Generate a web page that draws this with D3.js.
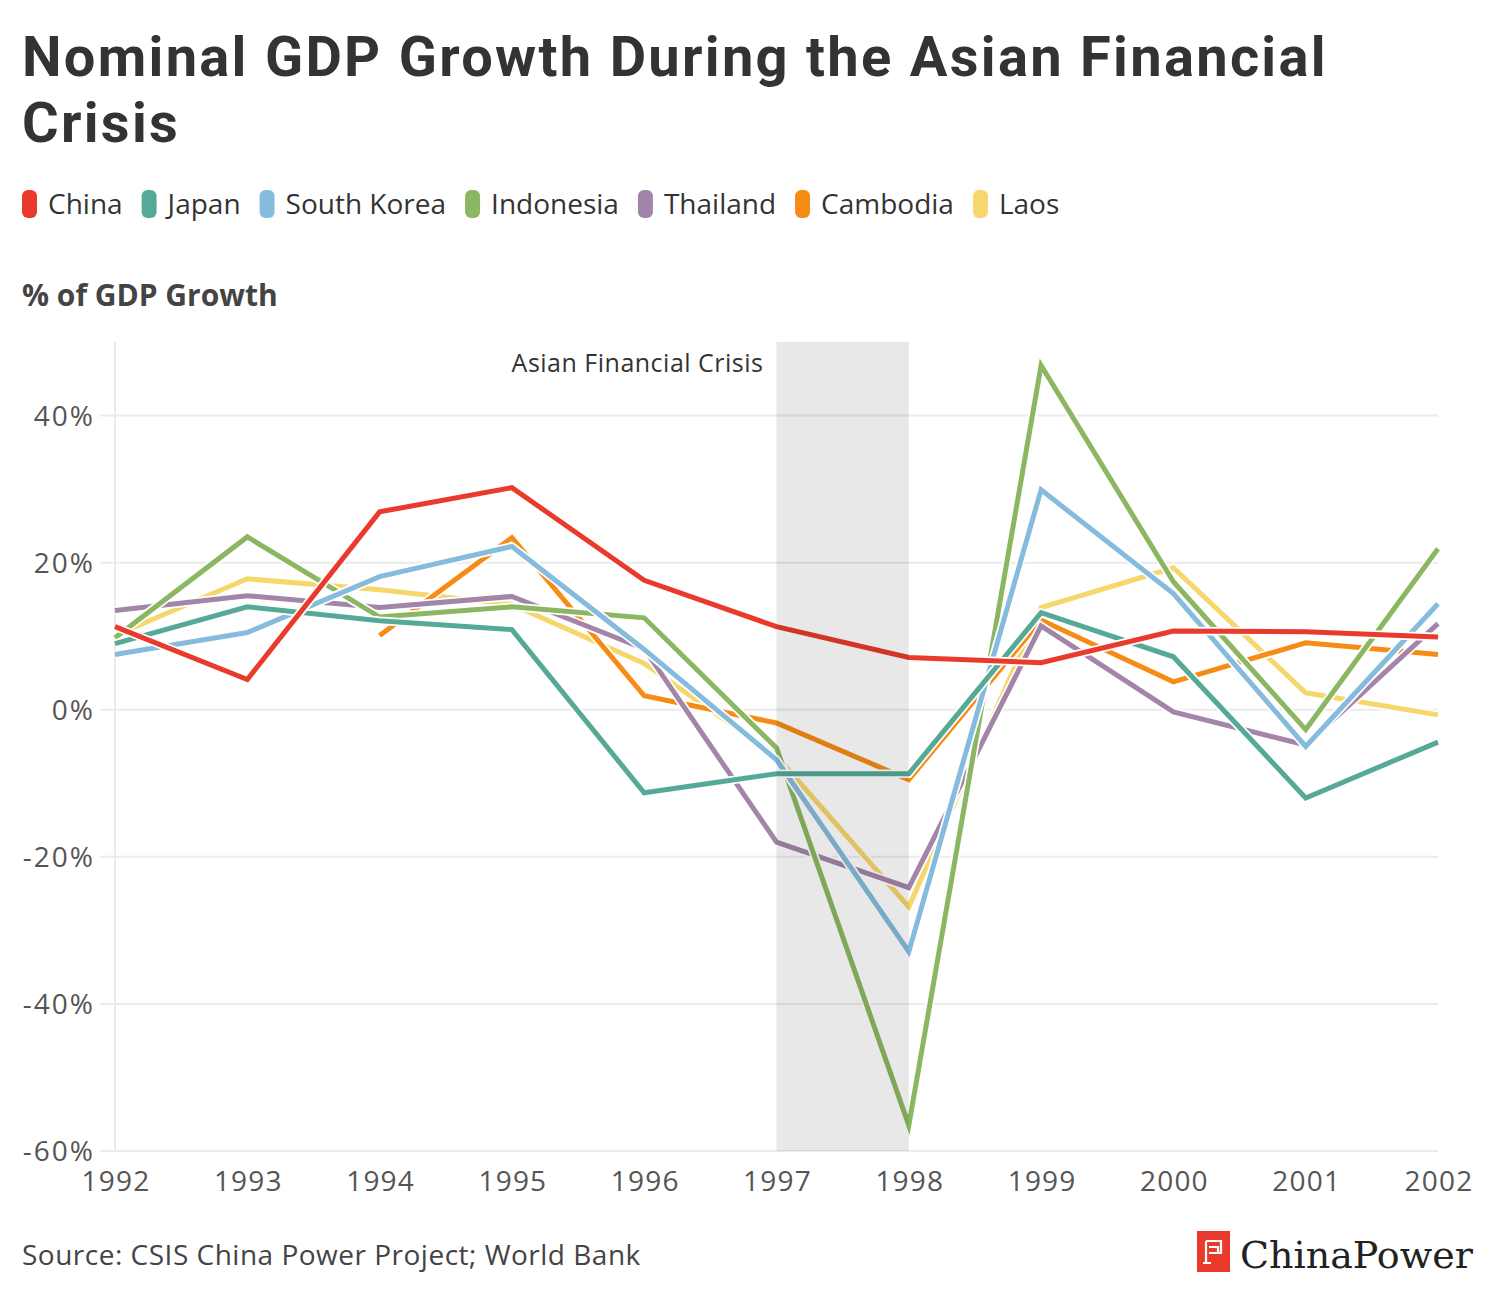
<!DOCTYPE html>
<html>
<head>
<meta charset="utf-8">
<script src="https://cdn.jsdelivr.net/npm/d3@7"></script>
<style>
  body { margin: 0; background: #fff; }
  svg { font-family: "Open Sans", Lato, sans-serif; }
</style>
</head>
<body>
<svg id="chart" width="1500" height="1300"></svg>
<script>
// years on the x axis
var years = [1992, 1993, 1994, 1995, 1996, 1997, 1998, 1999, 2000, 2001, 2002];

// nominal GDP growth, % (null = no data)
var china     = [11.3, 4.1, 26.9, 30.2, 17.6, 11.3, 7.1, 6.4, 10.7, 10.6, 9.9];
var japan     = [9.0, 14.0, 12.1, 10.9, -11.3, -8.7, -8.7, 13.2, 7.2, -12.0, -4.4];
var korea     = [7.5, 10.5, 18.1, 22.2, 8.2, -6.8, -32.9, 29.9, 15.8, -5.0, 14.4];
var indonesia = [9.8, 23.5, 12.6, 14.0, 12.5, -5.2, -56.5, 46.8, 17.4, -2.7, 21.9];
var thailand  = [13.5, 15.5, 13.9, 15.4, 8.3, -18.0, -24.2, 11.4, -0.3, -4.8, 11.7];
var cambodia  = [null, null, 10.1, 23.4, 1.9, -1.8, -9.5, 12.2, 3.8, 9.1, 7.5];
var laos      = [10.1, 17.8, 16.3, 14.3, 6.3, -6.3, -26.8, 13.9, 19.3, 2.3, -0.7];

var names  = ["China", "Japan", "South Korea", "Indonesia", "Thailand", "Cambodia", "Laos"];
var colors = ["#ea3a2c", "#56a996", "#85bbdc", "#8cb762", "#a385a9", "#f68c15", "#f6d76c"];
var values = [china, japan, korea, indonesia, thailand, cambodia, laos];

var yTicks = [-60, -40, -20, 0, 20, 40];
var crisis = [1997, 1998];

var svg = d3.select("svg#chart");

var margin = {left: 115, right: 62, top: 342, bottom: 149};
var W = 1500, H = 1300;

var x = d3.scaleLinear().domain([1992, 2002]).range([margin.left, W - margin.right]);
var y = d3.scaleLinear().domain([-60, 50]).range([H - margin.bottom, margin.top]);

// title
svg.append("text").attr("x", 22).attr("y", 76)
  .attr("font-family", "Roboto, sans-serif").attr("font-size", 56).attr("font-weight", 700)
  .attr("letter-spacing", 2.3).attr("fill", "#333")
  .text("Nominal GDP Growth During the Asian Financial");
svg.append("text").attr("x", 22).attr("y", 142)
  .attr("font-family", "Roboto, sans-serif").attr("font-size", 56).attr("font-weight", 700)
  .attr("letter-spacing", 2.3).attr("fill", "#333")
  .text("Crisis");

// legend
var lx = 22;
names.forEach(function(n, i) {
  var g = svg.append("g").attr("transform", "translate(" + lx + ",190)");
  g.append("rect").attr("width", 15).attr("height", 28).attr("rx", 6)
    .attr("fill", colors[i]);
  var t = g.append("text").attr("x", 26).attr("y", 24)
    .attr("font-size", 28).attr("fill", "#333").text(n);
  lx += 26 + t.node().getComputedTextLength() + 19;
});

svg.append("text").attr("x", 22).attr("y", 306)
  .attr("font-size", 30).attr("font-weight", 700).attr("fill", "#444")
  .text("% of GDP Growth");

// gridlines
svg.append("g").selectAll("line").data(yTicks).enter().append("line")
  .attr("x1", margin.left - 15).attr("x2", W - margin.right)
  .attr("y1", function(d) { return y(d); }).attr("y2", function(d) { return y(d); })
  .attr("stroke", "#ebebeb").attr("stroke-width", 2);

svg.append("line")
  .attr("x1", margin.left).attr("x2", margin.left)
  .attr("y1", margin.top).attr("y2", H - margin.bottom)
  .attr("stroke", "#ebebeb").attr("stroke-width", 2);

// y tick labels
svg.append("g").selectAll("text").data(yTicks).enter().append("text")
  .attr("x", 95).attr("y", function(d) { return y(d) + 10; })
  .attr("text-anchor", "end").attr("font-size", 28).attr("letter-spacing", 2)
  .attr("fill", "#555")
  .text(function(d) { return d + "%"; });

// x tick labels
svg.append("g").selectAll("text").data(years).enter().append("text")
  .attr("x", function(d) { return x(d) + 1; }).attr("y", 1191)
  .attr("text-anchor", "middle").attr("font-size", 28).attr("letter-spacing", 1.2)
  .attr("fill", "#555")
  .text(function(d) { return d; });

// lines
var line = d3.line()
  .defined(function(d) { return d != null; })
  .x(function(d, i) { return x(years[i]); })
  .y(function(d) { return y(d); });

var order = d3.range(names.length).reverse();
var lines = svg.append("g");
order.forEach(function(i) {
  lines.append("path").attr("d", line(values[i]))
    .attr("fill", "none").attr("stroke", "#fff").attr("stroke-width", 8.5);
  lines.append("path").attr("d", line(values[i]))
    .attr("fill", "none").attr("stroke", colors[i]).attr("stroke-width", 5);
});

// crisis band (drawn on top, translucent)
svg.append("rect")
  .attr("x", x(crisis[0])).attr("width", x(crisis[1]) - x(crisis[0]))
  .attr("y", margin.top).attr("height", y(-60) - margin.top)
  .attr("fill", "#000").attr("opacity", 0.09);

svg.append("text").attr("x", x(crisis[0]) - 13).attr("y", 372)
  .attr("text-anchor", "end").attr("font-size", 25).attr("letter-spacing", 0.5)
  .attr("fill", "#333")
  .text("Asian Financial Crisis");

// source
svg.append("text").attr("x", 22).attr("y", 1265)
  .attr("font-size", 28).attr("letter-spacing", 0.5).attr("fill", "#444")
  .text("Source: CSIS China Power Project; World Bank");

// logo
var logo = svg.append("g").attr("transform", "translate(1197,1231)");
logo.append("rect").attr("width", 33).attr("height", 41).attr("fill", "#ea3a2c");
logo.append("path")
  .attr("d", "M9,10 H24 V22 H12 M9,10 V32 M12,16 H21 V22 M6,32 H14")
  .attr("fill", "none").attr("stroke", "#fff").attr("stroke-width", 2.2);
svg.append("text").attr("x", 1240).attr("y", 1268)
  .attr("font-family", "'DejaVu Serif', serif").attr("font-size", 38).attr("fill", "#222")
  .text("ChinaPower");
</script>
</body>
</html>
